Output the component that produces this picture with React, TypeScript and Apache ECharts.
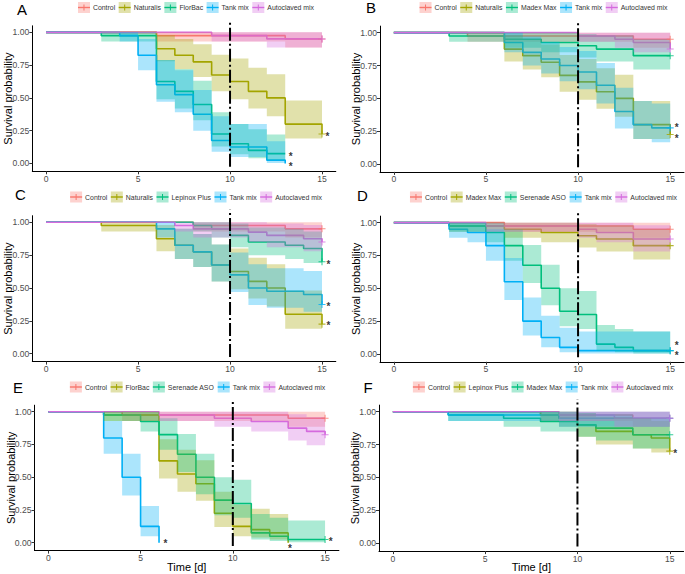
import React, { useEffect, useRef } from "react";
import * as echarts from "echarts";

// Each row: [day, survival probability, lower 95% CI, upper 95% CI]; last row = end of curve
const A_control = [[0, 1, 1, 1], [6, 0.975, 0.93, 1], [13, 0.95, 0.885, 1], [15, 0.95, 0.885, 1]];
const A_naturalis = [[0, 1, 1, 1], [6, 0.875, 0.78, 0.98], [7, 0.825, 0.72, 0.95], [8, 0.775, 0.66, 0.91], [9, 0.675, 0.55, 0.83], [10, 0.625, 0.49, 0.8], [11, 0.55, 0.42, 0.73], [12, 0.5, 0.36, 0.68], [13, 0.3, 0.19, 0.48], [15, 0.225, 0.19, 0.48]];
const A_florbac = [[0, 1, 1, 1], [3, 0.975, 0.93, 1], [6, 0.625, 0.49, 0.79], [7, 0.55, 0.42, 0.72], [8, 0.45, 0.33, 0.63], [9, 0.225, 0.13, 0.39], [10, 0.15, 0.07, 0.3], [11, 0.1, 0.04, 0.26], [12, 0.075, 0.025, 0.22], [13, 0.075, 0.025, 0.22]];
const A_tank = [[0, 1, 1, 1], [4, 0.975, 0.93, 1], [5, 0.825, 0.71, 0.95], [6, 0.6, 0.47, 0.79], [7, 0.525, 0.39, 0.71], [8, 0.375, 0.25, 0.56], [9, 0.175, 0.09, 0.36], [10, 0.125, 0.05, 0.3], [12, 0.025, 0.004, 0.17], [13, 0, 0, 0]];
const A_autoclaved = [[0, 1, 1, 1], [9, 0.975, 0.93, 1], [12, 0.95, 0.885, 1], [15, 0.95, 0.885, 1]];

const B_control = [[0, 1, 1, 1], [4, 0.975, 0.93, 1], [13, 0.95, 0.885, 1], [15, 0.95, 0.885, 1]];
const B_naturalis = [[0, 1, 1, 1], [6, 0.875, 0.78, 0.98], [7, 0.825, 0.72, 0.95], [8, 0.775, 0.66, 0.91], [9, 0.675, 0.55, 0.83], [10, 0.625, 0.49, 0.8], [11, 0.55, 0.42, 0.73], [12, 0.5, 0.36, 0.68], [13, 0.3, 0.19, 0.48], [15, 0.225, 0.19, 0.48]];
const B_madex = [[0, 1, 1, 1], [3, 0.975, 0.93, 1], [6, 0.95, 0.885, 1], [8, 0.925, 0.85, 1], [10, 0.9, 0.81, 0.99], [11, 0.875, 0.78, 0.98], [13, 0.825, 0.72, 0.95], [15, 0.825, 0.72, 0.95]];
const B_tank = [[0, 1, 1, 1], [6, 0.925, 0.85, 1], [7, 0.85, 0.75, 0.97], [8, 0.8, 0.69, 0.93], [9, 0.75, 0.63, 0.89], [10, 0.7, 0.57, 0.86], [11, 0.6, 0.46, 0.77], [12, 0.4, 0.27, 0.58], [13, 0.3, 0.19, 0.48], [14, 0.275, 0.165, 0.46], [15, 0.275, 0.165, 0.46]];
const B_autoclaved = [[0, 1, 1, 1], [10, 0.975, 0.93, 1], [12, 0.95, 0.885, 1], [13, 0.925, 0.85, 1], [15, 0.875, 0.85, 1]];

const C_control = [[0, 1, 1, 1], [8, 0.975, 0.93, 1], [13, 0.95, 0.885, 1], [15, 0.95, 0.885, 1]];
const C_naturalis = [[0, 1, 1, 1], [3, 0.975, 0.93, 1], [6, 0.875, 0.78, 0.98], [7, 0.825, 0.72, 0.95], [8, 0.775, 0.66, 0.91], [9, 0.675, 0.55, 0.83], [10, 0.625, 0.49, 0.8], [11, 0.55, 0.42, 0.73], [12, 0.5, 0.36, 0.68], [13, 0.3, 0.19, 0.48], [15, 0.225, 0.19, 0.48]];
const C_lepinox = [[0, 1, 1, 1], [8, 0.975, 0.93, 1], [9, 0.95, 0.885, 1], [10, 0.9, 0.81, 0.99], [11, 0.85, 0.75, 0.96], [13, 0.825, 0.72, 0.95], [14, 0.8, 0.69, 0.93], [15, 0.7, 0.69, 0.93]];
const C_tank = [[0, 1, 1, 1], [6, 0.95, 0.885, 1], [7, 0.825, 0.72, 0.95], [8, 0.775, 0.66, 0.91], [9, 0.675, 0.55, 0.83], [10, 0.6, 0.47, 0.77], [11, 0.5, 0.37, 0.68], [12, 0.475, 0.35, 0.65], [14, 0.45, 0.32, 0.63], [15, 0.375, 0.32, 0.63]];
const C_autoclaved = [[0, 1, 1, 1], [7, 0.975, 0.93, 1], [8, 0.95, 0.885, 1], [11, 0.925, 0.85, 1], [12, 0.9, 0.81, 0.99], [14, 0.875, 0.78, 0.98], [15, 0.85, 0.78, 0.98]];

const D_control = [[0, 1, 1, 1], [6, 0.975, 0.93, 1], [13, 0.95, 0.885, 1], [15, 0.95, 0.885, 1]];
const D_madex = [[0, 1, 1, 1], [3, 0.975, 0.93, 1], [6, 0.95, 0.885, 1], [8, 0.925, 0.85, 1], [10, 0.9, 0.81, 0.99], [11, 0.875, 0.78, 0.98], [13, 0.825, 0.72, 0.95], [15, 0.825, 0.72, 0.95]];
const D_serenade = [[0, 1, 1, 1], [3, 0.975, 0.93, 1], [5, 0.925, 0.85, 1], [6, 0.825, 0.71, 0.95], [7, 0.675, 0.54, 0.83], [8, 0.5, 0.37, 0.68], [9, 0.325, 0.21, 0.5], [10, 0.3, 0.19, 0.48], [11, 0.075, 0.025, 0.22], [12, 0.05, 0.013, 0.19], [13, 0.025, 0.004, 0.17], [15, 0.025, 0.004, 0.17]];
const D_tank = [[0, 1, 1, 1], [3, 0.95, 0.885, 1], [4, 0.925, 0.85, 1], [5, 0.825, 0.71, 0.95], [6, 0.55, 0.41, 0.73], [7, 0.25, 0.14, 0.43], [8, 0.125, 0.05, 0.29], [9, 0.05, 0.013, 0.2], [10, 0.025, 0.004, 0.17], [15, 0.025, 0.004, 0.17]];
const D_autoclaved = [[0, 1, 1, 1], [5, 0.975, 0.93, 1], [10, 0.95, 0.885, 1], [11, 0.925, 0.85, 1], [13, 0.875, 0.78, 0.98], [15, 0.875, 0.78, 0.98]];

const E_control = [[0, 1, 1, 1], [4, 0.975, 0.93, 1], [13, 0.95, 0.885, 1], [15, 0.95, 0.885, 1]];
const E_florbac = [[0, 1, 1, 1], [3, 0.975, 0.93, 1], [6, 0.625, 0.49, 0.79], [7, 0.525, 0.39, 0.71], [8, 0.45, 0.32, 0.63], [9, 0.225, 0.12, 0.39], [10, 0.125, 0.05, 0.29], [11, 0.1, 0.04, 0.26], [12, 0.075, 0.025, 0.22], [13, 0, 0, 0]];
const E_serenade = [[0, 1, 1, 1], [3, 0.975, 0.93, 1], [5, 0.925, 0.85, 1], [6, 0.825, 0.71, 0.95], [7, 0.675, 0.54, 0.83], [8, 0.5, 0.37, 0.68], [9, 0.325, 0.21, 0.5], [10, 0.3, 0.19, 0.48], [11, 0.075, 0.025, 0.22], [12, 0.05, 0.013, 0.19], [13, 0.025, 0.004, 0.17], [15, 0.025, 0.004, 0.17]];
const E_tank = [[0, 1, 1, 1], [3, 0.8, 0.68, 0.93], [4, 0.5, 0.36, 0.68], [5, 0.125, 0.05, 0.28], [6, 0, 0, 0]];
const E_autoclaved = [[0, 1, 1, 1], [6, 0.975, 0.93, 1], [9, 0.95, 0.885, 1], [11, 0.925, 0.85, 1], [13, 0.875, 0.78, 0.98], [14, 0.85, 0.745, 0.96], [15, 0.825, 0.745, 0.96]];

const F_control = [[0, 1, 1, 1], [8, 0.975, 0.93, 1], [13, 0.95, 0.885, 1], [15, 0.95, 0.885, 1]];
const F_lepinox = [[0, 1, 1, 1], [8, 0.975, 0.93, 1], [9, 0.95, 0.885, 1], [10, 0.9, 0.81, 0.99], [11, 0.85, 0.75, 0.96], [13, 0.825, 0.72, 0.95], [14, 0.8, 0.69, 0.93], [15, 0.7, 0.69, 0.93]];
const F_madex = [[0, 1, 1, 1], [3, 0.975, 0.93, 1], [6, 0.95, 0.885, 1], [8, 0.925, 0.85, 1], [10, 0.9, 0.81, 0.99], [11, 0.875, 0.78, 0.98], [13, 0.825, 0.72, 0.95], [15, 0.825, 0.72, 0.95]];
const F_tank = [[0, 1, 1, 1], [3, 0.975, 0.93, 1], [9, 0.95, 0.885, 1], [15, 0.95, 0.885, 1]];
const F_autoclaved = [[0, 1, 1, 1], [9, 0.975, 0.93, 1], [12, 0.95, 0.885, 1], [15, 0.95, 0.885, 1]];

// significance asterisks [day, survival]
const A_stars = [[15.3, 0.225], [13.3, 0.072], [13.3, -0.005]];
const B_stars = [[15.35, 0.295], [15.35, 0.215]];
const C_stars = [[15.35, 0.7], [15.35, 0.38], [15.35, 0.23]];
const D_stars = [[15.35, 0.082], [15.35, 0.005]];
const E_stars = [[6.35, 0.015], [13.1, -0.025], [15.3, 0.025]];
const F_stars = [[15.3, 0.7]];

const panelLetters = ["A", "B", "C", "D", "E", "F"];
const panelGroups = [
  ["Control", "Naturalis", "FlorBac", "Tank mix", "Autoclaved mix"],
  ["Control", "Naturalis", "Madex Max", "Tank mix", "Autoclaved mix"],
  ["Control", "Naturalis", "Lepinox Plus", "Tank mix", "Autoclaved mix"],
  ["Control", "Madex Max", "Serenade ASO", "Tank mix", "Autoclaved mix"],
  ["Control", "FlorBac", "Serenade ASO", "Tank mix", "Autoclaved mix"],
  ["Control", "Lepinox Plus", "Madex Max", "Tank mix", "Autoclaved mix"],
];
const panelCurves = [
  [A_control, A_naturalis, A_florbac, A_tank, A_autoclaved],
  [B_control, B_naturalis, B_madex, B_tank, B_autoclaved],
  [C_control, C_naturalis, C_lepinox, C_tank, C_autoclaved],
  [D_control, D_madex, D_serenade, D_tank, D_autoclaved],
  [E_control, E_florbac, E_serenade, E_tank, E_autoclaved],
  [F_control, F_lepinox, F_madex, F_tank, F_autoclaved],
];
const panelStars = [A_stars, B_stars, C_stars, D_stars, E_stars, F_stars];
const xTicks = [0, 5, 10, 15];
const yTicks = [0, 0.25, 0.5, 0.75, 1];
const treatmentDay = 10;
const endDay = 15;

const PALETTE = ["#F8766D", "#A3A500", "#00BF7D", "#00B0F6", "#D56BDE"];
const FONT = "'Liberation Sans', Arial, Helvetica, sans-serif";
const BAND_ALPHA = 0.33;

const GRIDS = [
  { left: 32.3, top: 25.8, width: 303.5, height: 145.5 },
  { left: 380, top: 26.1, width: 304, height: 145.8 },
  { left: 32.3, top: 215.7, width: 303.5, height: 145.9 },
  { left: 380, top: 216.1, width: 304, height: 145.7 },
  { left: 34.5, top: 405.2, width: 304.4, height: 145.4 },
  { left: 379, top: 405.1, width: 304.6, height: 146 },
];
const LEGEND_POS = [
  { cx: 196, cy: 7.5 },
  { cx: 543.5, cy: 7.5 },
  { cx: 196, cy: 197 },
  { cx: 543.5, cy: 197 },
  { cx: 197.5, cy: 387 },
  { cx: 543, cy: 387 },
];
const LETTER_POS = [
  { x: 17, y: 1.5 },
  { x: 366, y: 0 },
  { x: 15, y: 187 },
  { x: 357, y: 187.5 },
  { x: 13, y: 379.5 },
  { x: 363.5, y: 379.5 },
];
const LEG_FS = 6.9;

const PLUS = "path://M-1,-0.15L1,-0.15L1,0.15L-1,0.15Z M-0.15,-1L0.15,-1L0.15,1L-0.15,1Z";

function measure(text: string, size: number): number {
  const c = document.createElement("canvas").getContext("2d");
  if (!c) return text.length * size * 0.5;
  c.font = `${size}px 'Liberation Sans'`;
  return c.measureText(text).width;
}

function bandRenderer(color: string) {
  return (params: any, api: any) => {
    if (params.dataIndexInside !== 0) return null;
    const n = params.dataInsideLength;
    const up: number[][] = [];
    const lo: number[][] = [];
    for (let i = 0; i < n - 1; i++) {
      const t0 = api.value(0, i);
      const t1 = api.value(0, i + 1);
      const l = api.value(2, i);
      const h = api.value(3, i);
      up.push(api.coord([t0, h]), api.coord([t1, h]));
      lo.push(api.coord([t0, l]), api.coord([t1, l]));
    }
    const pts = up.concat(lo.reverse());
    return {
      type: "polygon",
      shape: { points: pts },
      style: { fill: color, opacity: BAND_ALPHA },
      silent: true,
    };
  };
}

export default function App() {
  const ref = useRef<HTMLDivElement>(null);
  useEffect(() => {
    document.body.style.margin = "0";
    if (!ref.current) return;
    const chart = echarts.init(ref.current, null, { renderer: "svg" });

    const grid: any[] = [];
    const xAxis: any[] = [];
    const yAxis: any[] = [];
    const series: any[] = [];
    const graphic: any[] = [];

    for (let p = 0; p < 6; p++) {
      grid.push({ ...GRIDS[p], containLabel: false, outerBoundsMode: "none" });
      xAxis.push({
        type: "value",
        gridIndex: p,
        min: -0.75,
        max: 15.75,
        splitLine: { show: false },
        axisLine: { show: true, onZero: false, lineStyle: { color: "#000", width: 1 } },
        axisTick: { show: true, length: 3, customValues: xTicks, lineStyle: { color: "#333", width: 1 } },
        axisLabel: { customValues: xTicks, fontSize: 8.6, color: "#4D4D4D", margin: 3, fontFamily: FONT },
        name: p >= 4 ? "Time [d]" : "",
        nameLocation: "middle",
        nameGap: 10,
        nameMoveOverlap: false,
        nameTextStyle: { fontSize: 11, color: "#000", fontFamily: FONT, lineHeight: 12 },
      });
      yAxis.push({
        type: "value",
        gridIndex: p,
        min: -0.06,
        max: 1.05,
        splitLine: { show: false },
        axisLine: { show: true, onZero: false, lineStyle: { color: "#000", width: 1 } },
        axisTick: { show: true, length: 3, customValues: yTicks, lineStyle: { color: "#333", width: 1 } },
        axisLabel: {
          customValues: yTicks,
          fontSize: 8.6,
          color: "#4D4D4D",
          margin: 3,
          fontFamily: FONT,
          formatter: (v: number) => v.toFixed(2),
        },
        name: "Survival probability",
        nameLocation: "middle",
        nameGap: 18,
        nameMoveOverlap: false,
        nameTextStyle: { fontSize: 11, color: "#000", fontFamily: FONT, lineHeight: 12 },
      });

      const curves = panelCurves[p];
      const names = panelGroups[p];
      curves.forEach((rows, c) => {
        const color = PALETTE[c];
        series.push({
          type: "line",
          name: `${names[c]}`,
          xAxisIndex: p,
          yAxisIndex: p,
          data: rows.map((r) => [r[0], r[1]]),
          step: "end",
          symbol: "none",
          lineStyle: { color, width: 1.6 },
          z: 2,
          silent: true,
        });
      });
      curves.forEach((rows, c) => {
        const color = PALETTE[c];
        series.push({
          type: "custom",
          xAxisIndex: p,
          yAxisIndex: p,
          dimensions: ["t", "s", "lo", "hi"],
          encode: { x: 0, y: [1, 2, 3] },
          data: rows,
          renderItem: bandRenderer(color),
          z: 3,
          silent: true,
        });
      });
      curves.forEach((rows, c) => {
        const color = PALETTE[c];
        const last = rows[rows.length - 1];
        if (last[0] !== endDay) return;
        series.push({
          type: "scatter",
          xAxisIndex: p,
          yAxisIndex: p,
          data: [[last[0], last[1]]],
          symbol: PLUS,
          symbolSize: 7,
          itemStyle: { color },
          z: 4,
          silent: true,
        });
      });
      series.push({
        type: "line",
        xAxisIndex: p,
        yAxisIndex: p,
        data: [
          [treatmentDay, -0.025],
          [treatmentDay, 1.095],
        ],
        clip: false,
        symbol: "none",
        lineStyle: { color: "#000", width: 2, type: [13, 3, 2, 3] },
        z: 5,
        silent: true,
      });
      series.push({
        type: "scatter",
        xAxisIndex: p,
        yAxisIndex: p,
        data: panelStars[p],
        symbolSize: 0.1,
        itemStyle: { color: "transparent" },
        label: {
          show: true,
          position: "inside",
          formatter: "*",
          fontSize: 10,
          fontWeight: "bold",
          color: "#000",
          fontFamily: FONT,
          lineHeight: 7,
          offset: [0, 2.5],
        },
        z: 6,
        silent: true,
      });

      // legend
      const widths = names.map((n) => measure(n, LEG_FS));
      const KEY = 12;
      const GAP_T = 3;
      const GAP_I = 3.5;
      const total = widths.reduce((a, w) => a + KEY + GAP_T + w, 0) + GAP_I * (names.length - 1);
      let x = LEGEND_POS[p].cx - total / 2;
      const cy = LEGEND_POS[p].cy;
      names.forEach((n, c) => {
        const color = PALETTE[c];
        graphic.push({
          type: "line",
          shape: { x1: x, y1: cy, x2: x + KEY, y2: cy },
          style: { stroke: color, lineWidth: 1.4 },
          silent: true,
        });
        graphic.push({
          type: "line",
          shape: { x1: x + KEY / 2, y1: cy - 3, x2: x + KEY / 2, y2: cy + 3 },
          style: { stroke: color, lineWidth: 1 },
          silent: true,
        });
        graphic.push({
          type: "rect",
          shape: { x, y: cy - 5.5, width: KEY, height: 11 },
          style: { fill: color, opacity: BAND_ALPHA },
          silent: true,
        });
        graphic.push({
          type: "text",
          x: x + KEY + GAP_T,
          y: cy,
          style: { text: n, fontSize: LEG_FS, fontFamily: FONT, fill: "#333", verticalAlign: "middle", align: "left" },
          silent: true,
        });
        x += KEY + GAP_T + widths[c] + GAP_I;
      });
      graphic.push({
        type: "text",
        x: LETTER_POS[p].x,
        y: LETTER_POS[p].y,
        style: { text: panelLetters[p], fontSize: 15, fontFamily: FONT, fill: "#000", verticalAlign: "top", align: "left" },
        silent: true,
      });
    }

    chart.setOption({
      animation: false,
      textStyle: { fontFamily: FONT },
      grid,
      xAxis,
      yAxis,
      series,
      graphic,
    });
    return () => chart.dispose();
  }, []);
  return <div ref={ref} style={{ width: 685, height: 574 }} />;
}
